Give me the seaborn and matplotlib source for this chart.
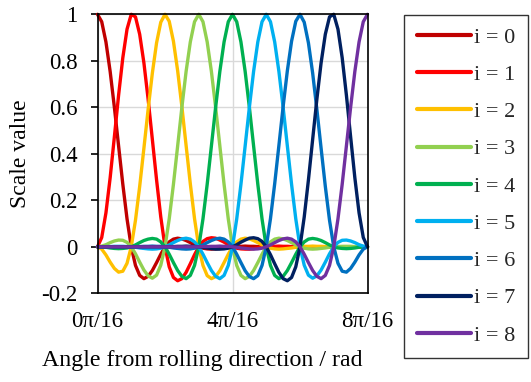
import numpy as np
import pandas as pd
import matplotlib
matplotlib.use("Agg")
import matplotlib.pyplot as plt
import seaborn as sns

# Sampled angles from rolling direction (0 .. pi/2), 65 samples
angle_rad = np.linspace(0, np.pi / 2, 65)

# Scale value of each basis function i at the sampled angles
scale_i0 = [1.000, 0.968, 0.881, 0.754, 0.600, 0.434, 0.269, 0.120, 0.000,
            -0.080, -0.123, -0.137, -0.127, -0.102, -0.068, -0.032, 0.000,
            0.021, 0.033, 0.037, 0.034, 0.027, 0.018, 0.008, 0.000,
            -0.006, -0.009, -0.010, -0.009, -0.007, -0.005, -0.002, 0.000,
            0.002, 0.002, 0.003, 0.002, 0.002, 0.001, 0.001, 0.000,
            0.000, 0.000, 0.000, 0.000, 0.000, 0.000, 0.000, 0.000,
            0.000, 0.000, 0.000, 0.000, 0.000, 0.000, 0.000, 0.000,
            0.000, 0.000, 0.000, 0.000, 0.000, 0.000, 0.000, 0.000]
scale_i1 = [0.000, 0.040, 0.146, 0.297, 0.473, 0.652, 0.813, 0.936, 1.000,
            0.989, 0.914, 0.791, 0.635, 0.462, 0.288, 0.128, 0.000,
            -0.086, -0.132, -0.146, -0.137, -0.110, -0.073, -0.034, 0.000,
            0.023, 0.035, 0.039, 0.037, 0.029, 0.020, 0.009, 0.000,
            -0.006, -0.009, -0.010, -0.010, -0.008, -0.005, -0.002, 0.000,
            0.002, 0.002, 0.003, 0.002, 0.002, 0.001, 0.001, 0.000,
            0.000, 0.000, 0.000, 0.000, 0.000, 0.000, 0.000, 0.000,
            0.000, 0.000, 0.000, 0.000, 0.000, 0.000, 0.000, 0.000]
scale_i2 = [0.000, -0.010, -0.035, -0.066, -0.093, -0.109, -0.105, -0.071, 0.000,
            0.114, 0.260, 0.424, 0.591, 0.747, 0.877, 0.966, 1.000,
            0.970, 0.884, 0.757, 0.603, 0.436, 0.271, 0.121, 0.000,
            -0.080, -0.124, -0.137, -0.128, -0.103, -0.068, -0.032, 0.000,
            0.021, 0.033, 0.037, 0.034, 0.027, 0.018, 0.008, 0.000,
            -0.006, -0.009, -0.010, -0.009, -0.007, -0.005, -0.002, 0.000,
            0.002, 0.002, 0.003, 0.002, 0.002, 0.001, 0.001, 0.000,
            0.000, 0.000, 0.000, 0.000, 0.000, 0.000, 0.000, 0.000]
scale_i3 = [0.000, 0.003, 0.009, 0.018, 0.025, 0.029, 0.028, 0.019, 0.000,
            -0.030, -0.066, -0.100, -0.125, -0.135, -0.122, -0.079, 0.000,
            0.120, 0.269, 0.434, 0.600, 0.754, 0.881, 0.968, 1.000,
            0.968, 0.881, 0.754, 0.600, 0.434, 0.269, 0.120, 0.000,
            -0.080, -0.123, -0.137, -0.127, -0.102, -0.068, -0.032, 0.000,
            0.021, 0.033, 0.037, 0.034, 0.027, 0.018, 0.008, 0.000,
            -0.006, -0.009, -0.010, -0.009, -0.007, -0.005, -0.002, 0.000,
            0.001, 0.002, 0.002, 0.002, 0.001, 0.001, 0.000, 0.000]
scale_i4 = [0.000, -0.001, -0.002, -0.005, -0.007, -0.008, -0.007, -0.005, 0.000,
            0.008, 0.018, 0.027, 0.033, 0.036, 0.033, 0.021, 0.000,
            -0.032, -0.068, -0.102, -0.127, -0.137, -0.123, -0.080, 0.000,
            0.120, 0.269, 0.434, 0.600, 0.754, 0.881, 0.968, 1.000,
            0.968, 0.881, 0.754, 0.600, 0.434, 0.269, 0.120, 0.000,
            -0.080, -0.123, -0.137, -0.127, -0.102, -0.068, -0.032, 0.000,
            0.021, 0.033, 0.036, 0.033, 0.027, 0.018, 0.008, 0.000,
            -0.005, -0.007, -0.008, -0.007, -0.005, -0.002, -0.001, 0.000]
scale_i5 = [0.000, 0.000, 0.001, 0.001, 0.002, 0.002, 0.002, 0.001, 0.000,
            -0.002, -0.005, -0.007, -0.009, -0.010, -0.009, -0.006, 0.000,
            0.008, 0.018, 0.027, 0.034, 0.037, 0.033, 0.021, 0.000,
            -0.032, -0.068, -0.102, -0.127, -0.137, -0.123, -0.080, 0.000,
            0.120, 0.269, 0.434, 0.600, 0.754, 0.881, 0.968, 1.000,
            0.968, 0.881, 0.754, 0.600, 0.434, 0.269, 0.120, 0.000,
            -0.079, -0.122, -0.135, -0.125, -0.100, -0.066, -0.030, 0.000,
            0.019, 0.028, 0.029, 0.025, 0.018, 0.009, 0.003, 0.000]
scale_i6 = [0.000, 0.000, 0.000, 0.000, 0.000, 0.000, 0.000, 0.000, 0.000,
            0.001, 0.001, 0.002, 0.002, 0.003, 0.002, 0.002, 0.000,
            -0.002, -0.005, -0.007, -0.009, -0.010, -0.009, -0.006, 0.000,
            0.008, 0.018, 0.027, 0.034, 0.037, 0.033, 0.021, 0.000,
            -0.032, -0.068, -0.103, -0.128, -0.137, -0.124, -0.080, 0.000,
            0.121, 0.271, 0.436, 0.603, 0.757, 0.884, 0.970, 1.000,
            0.966, 0.877, 0.747, 0.591, 0.424, 0.260, 0.114, 0.000,
            -0.071, -0.105, -0.109, -0.093, -0.066, -0.035, -0.010, 0.000]
scale_i7 = [0.000, 0.000, 0.000, 0.000, 0.000, 0.000, 0.000, 0.000,
            0.000, 0.000, 0.000, 0.000, 0.000, 0.000, 0.000, 0.000, 0.000,
            0.001, 0.001, 0.002, 0.002, 0.003, 0.002, 0.002, 0.000,
            -0.002, -0.005, -0.008, -0.010, -0.010, -0.009, -0.006, 0.000,
            0.009, 0.020, 0.029, 0.037, 0.039, 0.035, 0.023, 0.000,
            -0.034, -0.073, -0.110, -0.137, -0.146, -0.132, -0.086, 0.000,
            0.128, 0.288, 0.462, 0.635, 0.791, 0.914, 0.989, 1.000,
            0.936, 0.813, 0.652, 0.473, 0.297, 0.146, 0.040, 0.000]
scale_i8 = [0.000, 0.000, 0.000, 0.000, 0.000, 0.000, 0.000, 0.000,
            0.000, 0.000, 0.000, 0.000, 0.000, 0.000, 0.000, 0.000,
            0.000, 0.000, 0.000, 0.000, 0.000, 0.000, 0.000, 0.000, 0.000,
            0.001, 0.001, 0.002, 0.002, 0.003, 0.002, 0.002, 0.000,
            -0.002, -0.005, -0.007, -0.009, -0.010, -0.009, -0.006, 0.000,
            0.008, 0.018, 0.027, 0.034, 0.037, 0.033, 0.021, 0.000,
            -0.032, -0.068, -0.102, -0.127, -0.137, -0.123, -0.080, 0.000,
            0.120, 0.269, 0.434, 0.600, 0.754, 0.881, 0.968, 1.000]

series_values = [scale_i0, scale_i1, scale_i2, scale_i3, scale_i4,
                 scale_i5, scale_i6, scale_i7, scale_i8]
series_labels = ["i = 0", "i = 1", "i = 2", "i = 3", "i = 4",
                 "i = 5", "i = 6", "i = 7", "i = 8"]
series_colors = ["#C00000", "#FF0000", "#FFC000", "#92D050", "#00B050",
                 "#00B0F0", "#0070C0", "#002060", "#7030A0"]

x_tick_values = [0, np.pi / 4, np.pi / 2]
x_tick_labels = ["0\u03c0/16", "4\u03c0/16", "8\u03c0/16"]
y_tick_values = [-0.2, 0, 0.2, 0.4, 0.6, 0.8, 1.0]
y_tick_labels = ["-0.2", "0", "0.2", "0.4", "0.6", "0.8", "1"]

frames = []
for label, values in zip(series_labels, series_values):
    frames.append(pd.DataFrame({"angle": angle_rad, "scale": values, "series": label}))
df = pd.concat(frames, ignore_index=True)

sns.set_theme(style="white")
plt.rcParams["font.family"] = ["Liberation Serif", "DejaVu Serif"]

W, H = 531, 382
fig = plt.figure(figsize=(W / 100, H / 100), dpi=100)
ax = fig.add_axes([97.5 / W, 1 - 293.3 / H, 270 / W, 279 / H])

sns.lineplot(data=df, x="angle", y="scale", hue="series", hue_order=series_labels,
             palette=series_colors, linewidth=2.4, sort=False, ax=ax, legend=True)
for line in ax.lines:
    line.set_clip_on(False)
    line.set_solid_capstyle("round")

ax.set_xlim(0, np.pi / 2)
ax.set_ylim(-0.2, 1.0)
ax.set_xticks(x_tick_values)
ax.set_xticklabels(x_tick_labels)
ax.set_yticks(y_tick_values)
ax.set_yticklabels(y_tick_labels)
ax.grid(True, color="#d9d9d9", linewidth=1.0)
ax.set_axisbelow(True)
for side in ["left", "right", "top", "bottom"]:
    ax.spines[side].set_visible(True)
    ax.spines[side].set_color("black")
    ax.spines[side].set_linewidth(1.2)

ax.tick_params(axis="x", length=0, pad=12.5, labelsize=16.5, colors="black")
ax.tick_params(axis="y", direction="out", length=5, width=1.2, pad=9.5,
               labelsize=16.5, colors="black", left=True)

ax.set_xlabel("Angle from rolling direction / rad", fontsize=17.2, color="black")
ax.set_ylabel("Scale value", fontsize=17, color="black")
ax.xaxis.set_label_coords((202.5 - 97.5) / 270, (293.3 - 350) / 279)
ax.yaxis.set_label_coords((31 - 97.5) / 270, 0.5)

handles, labels = ax.get_legend_handles_labels()
ax.get_legend().remove()
leg = fig.legend(handles, labels, loc="upper left",
                 bbox_to_anchor=(404.3 / W, 1 - 15 / H), frameon=True,
                 fancybox=False, edgecolor="black", fontsize=16,
                 handlelength=2.45, handletextpad=0.15, labelspacing=0.75,
                 borderpad=0.55, borderaxespad=0)
leg.get_frame().set_linewidth(1.0)
for h in leg.get_lines():
    h.set_linewidth(3.0)

fig.savefig("out.png", dpi=100)
